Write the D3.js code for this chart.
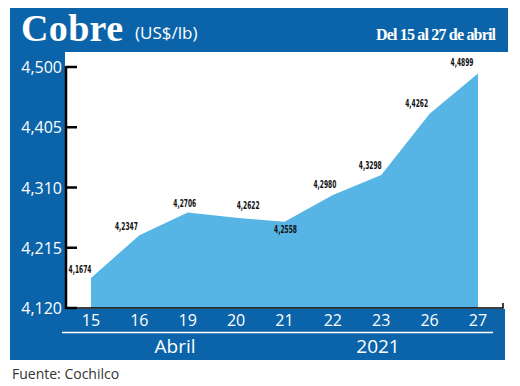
<!DOCTYPE html>
<html>
<head>
<meta charset="utf-8">
<script src="https://cdn.jsdelivr.net/npm/d3@7"></script>
<style>
  body { margin: 0; background: #fff; }
  svg { display: block; }
</style>
</head>
<body>
<div id="chart-area"></div>
<script>
var days = ["15", "16", "19", "20", "21", "22", "23", "26", "27"]
var prices = [4.1674, 4.2347, 4.2706, 4.2622, 4.2558, 4.2980, 4.3298, 4.4262, 4.4899]
var yTicks = [4.120, 4.215, 4.310, 4.405, 4.500]
var groups = ["Abril", "2021"]

var canvasWidth = 520
var canvasHeight = 386
var frameBlue = "#0b64a9"
var areaBlue = "#56b5e5"

// label offsets relative to each point (dx, dy)
var labelOff = [[-11, -5], [-13, -5], [-3, -5], [12, -9], [1, 11], [-8, -7], [-11, -6], [-13, -7], [-16, -7]]

var svg = d3.select("#chart-area")
	.append("svg")
	.attr("width", canvasWidth)
	.attr("height", canvasHeight)

var x = d3.scalePoint()
	.domain(days)
	.range([91, 478])

var y = d3.scaleLinear()
	.domain([4.12, 4.5])
	.range([308, 67])

var fmt = function(v, n) { return v.toFixed(n).replace(".", ",") }

// frame
svg.append("rect").attr("x", 10).attr("y", 8).attr("width", 498).attr("height", 44).attr("fill", frameBlue)
svg.append("rect").attr("x", 10).attr("y", 8).attr("width", 55).attr("height", 352).attr("fill", frameBlue)
svg.append("rect").attr("x", 10).attr("y", 309).attr("width", 495).attr("height", 51).attr("fill", frameBlue)

// header
svg.append("text")
	.attr("x", 21).attr("y", 41)
	.attr("fill", "#fff")
	.attr("font-family", "Liberation Serif, serif")
	.attr("font-weight", "bold")
	.attr("font-size", "38px")
	.attr("textLength", 102)
	.text("Cobre")
svg.append("text")
	.attr("x", 135).attr("y", 39)
	.attr("fill", "#fff")
	.attr("font-family", "Open Sans, sans-serif")
	.attr("font-size", "17px")
	.text("(US$/lb)")
svg.append("text")
	.attr("x", 496).attr("y", 40)
	.attr("text-anchor", "end")
	.attr("fill", "#fff")
	.attr("font-family", "Liberation Serif, serif")
	.attr("font-weight", "bold")
	.attr("font-size", "16px")
	.attr("textLength", 120)
	.text("Del 15 al 27 de abril")

// area
var area = d3.area()
	.x(function(d, i) { return x(days[i]) })
	.y0(y(4.12))
	.y1(function(d) { return y(d) })

svg.append("path")
	.datum(prices)
	.attr("d", area)
	.attr("fill", areaBlue)

// value labels
svg.append("g").selectAll("text")
	.data(prices)
	.enter().append("text")
		.attr("x", function(d, i) { return x(days[i]) + labelOff[i][0] - 11.5 })
		.attr("y", function(d, i) { return y(d) + labelOff[i][1] })
		.attr("font-family", "DejaVu Sans Condensed, sans-serif")
		.attr("font-weight", "bold")
		.attr("font-size", "11px")
		.attr("textLength", 23)
		.attr("lengthAdjust", "spacingAndGlyphs")
		.attr("fill", "#111")
		.text(function(d) { return fmt(d, 4) })

// y axis
var yAxis = svg.append("g")
	.attr("transform", "translate(66,0)")
yAxis.append("line")
	.attr("x1", 0).attr("x2", 0)
	.attr("y1", y(4.5) - 1).attr("y2", y(4.12) + 1)
	.attr("stroke", "#000").attr("stroke-width", 2.5)
yAxis.selectAll(".tick")
	.data(yTicks)
	.enter().append("line")
		.attr("x1", 0).attr("x2", 11)
		.attr("y1", function(d) { return y(d) })
		.attr("y2", function(d) { return y(d) })
		.attr("stroke", "#000").attr("stroke-width", 2.5)
yAxis.selectAll("text")
	.data(yTicks)
	.enter().append("text")
		.attr("x", -4)
		.attr("y", function(d) { return y(d) + 6 })
		.attr("text-anchor", "end")
		.attr("fill", "#fff")
		.attr("font-family", "Open Sans, sans-serif")
		.attr("font-size", "16px")
		.text(function(d) { return fmt(d, 3) })

// x baseline
svg.append("path")
	.attr("d", "M66," + y(4.12) + "H503V" + (y(4.12) - 5))
	.attr("fill", "none")
	.attr("stroke", "#000").attr("stroke-width", 1.5)

// x labels
svg.append("g").selectAll("text")
	.data(days)
	.enter().append("text")
		.attr("x", function(d) { return x(d) })
		.attr("y", 326)
		.attr("text-anchor", "middle")
		.attr("fill", "#fff")
		.attr("font-family", "Open Sans, sans-serif")
		.attr("font-size", "16px")
		.text(function(d) { return d })

svg.append("line")
	.attr("x1", 62).attr("x2", 493)
	.attr("y1", 332.5).attr("y2", 332.5)
	.attr("stroke", "#fff").attr("stroke-width", 1.5)

svg.append("g").selectAll("text")
	.data(groups)
	.enter().append("text")
		.attr("x", function(d, i) { return [175, 378][i] })
		.attr("y", 353)
		.attr("text-anchor", "middle")
		.attr("fill", "#fff")
		.attr("font-family", "Open Sans, sans-serif")
		.attr("font-size", "19px")
		.text(function(d) { return d })

svg.append("text")
	.attr("x", 12).attr("y", 379)
	.attr("fill", "#333")
	.attr("font-family", "Open Sans, sans-serif")
	.attr("font-size", "14px")
	.text("Fuente: Cochilco")
</script>
</body>
</html>
